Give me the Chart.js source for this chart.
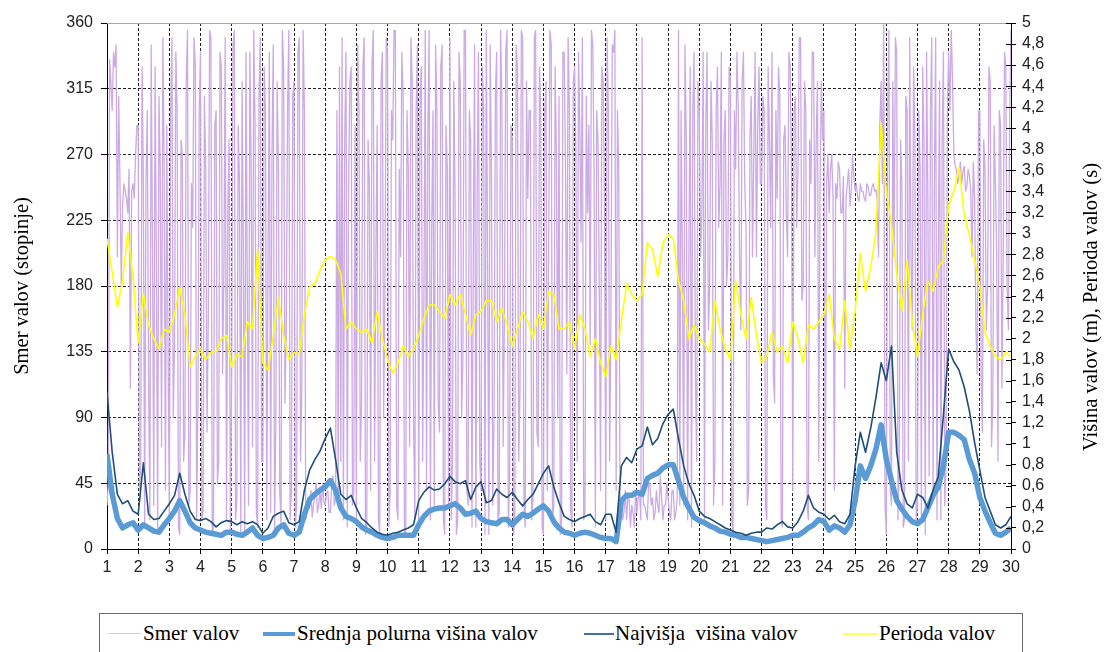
<!DOCTYPE html>
<html>
<head>
<meta charset="utf-8">
<title>Valovi</title>
<script src="https://cdn.jsdelivr.net/npm/chart.js@4.4.1/dist/chart.umd.min.js"></script>
<style>
  html, body { margin: 0; padding: 0; background: #fff; }
  #wrap { position: relative; width: 1107px; height: 652px; overflow: hidden; }
  #graf { position: absolute; left: 0; top: 0; }
  #legenda {
    position: absolute; left: 99px; top: 613px; width: 922px; height: 50px;
    border: 1px solid #6b6b6b; background: #fff;
    font: 21px "Liberation Serif", "Times New Roman", serif; color: #000;
  }
  #legenda .crta { position: absolute; }
  #legenda .txt { position: absolute; top: 6px; line-height: 26px; white-space: pre; }
</style>
</head>
<body>
<div id="wrap">
  <canvas id="graf" width="1107" height="652"></canvas>
  <div id="legenda">
    <span class="crta" style="left:8px;top:19px;width:33px;height:1px;background:#dcc6ee"></span>
    <span class="txt" style="left:43px">Smer valov</span>
    <span class="crta" style="left:163px;top:18px;width:32px;height:4px;background:#5b9bd5"></span>
    <span class="txt" style="left:197px">Srednja polurna višina valov</span>
    <span class="crta" style="left:484px;top:19px;width:30px;height:2px;background:#41729f"></span>
    <span class="txt" style="left:515px">Najvišja  višina valov</span>
    <span class="crta" style="left:743px;top:19px;width:34px;height:2px;background:#ffff55"></span>
    <span class="txt" style="left:779px">Perioda valov</span>
  </div>
</div>
<script>
/* ================= PODATKI ================= */
// smer valov (stopinje), vsako uro, od 1. do 30. dne (24 vrednosti na vrstico = 1 dan)
const smerValov = [
  30, 45, 335, 320, 300, 340, 330, 345, 200, 310, 250, 180, 235, 250, 245, 240, 230, 260, 110, 245, 250, 240, 270, 290,
  290, 40, 60, 330, 250, 15, 250, 300, 120, 20, 345, 210, 30, 330, 200, 10, 310, 260, 70, 350, 260, 40, 290, 140,
  20, 300, 350, 90, 140, 340, 300, 15, 10, 280, 270, 60, 80, 320, 355, 30, 40, 250, 220, 350, 330, 20, 100, 300,
  340, 20, 25, 310, 260, 80, 160, 355, 350, 10, 15, 290, 300, 45, 60, 340, 330, 120, 190, 350, 20, 230, 280, 10,
  120, 345, 355, 20, 35, 290, 250, 10, 320, 200, 10, 340, 180, 30, 340, 260, 70, 355, 290, 25, 15, 310, 350, 60,
  60, 330, 300, 20, 200, 340, 25, 270, 345, 10, 90, 320, 260, 40, 15, 355, 330, 100, 150, 300, 355, 20, 40, 310,
  320, 15, 30, 340, 350, 60, 110, 355, 300, 20, 25, 35, 28, 40, 22, 30, 35, 45, 25, 30, 40, 28, 45, 32,
  30, 38, 40, 25, 25, 45, 50, 30, 35, 300, 40, 330, 60, 350, 20, 280, 340, 15, 250, 320, 330, 30, 40, 290,
  20, 345, 300, 60, 100, 330, 350, 10, 15, 280, 250, 40, 330, 355, 60, 200, 290, 20, 10, 320, 340, 90, 180, 350,
  340, 15, 40, 300, 280, 355, 355, 30, 20, 260, 200, 340, 310, 10, 10, 300, 260, 70, 350, 320, 90, 20, 300, 345,
  15, 310, 330, 60, 170, 355, 40, 280, 355, 20, 220, 300, 30, 345, 300, 100, 80, 330, 345, 20, 10, 290, 260, 30,
  350, 20, 60, 320, 240, 10, 20, 340, 320, 90, 130, 355, 355, 40, 30, 300, 280, 15, 200, 345, 15, 250, 340, 60,
  40, 330, 300, 10, 355, 200, 10, 345, 260, 30, 90, 310, 340, 20, 25, 355, 310, 70, 160, 340, 355, 15, 50, 290,
  280, 10, 20, 345, 330, 60, 110, 355, 350, 30, 15, 320, 240, 300, 300, 20, 35, 350, 355, 80, 70, 330, 290, 15,
  10, 300, 320, 40, 200, 355, 345, 20, 30, 330, 270, 90, 310, 10, 20, 340, 340, 260, 120, 350, 300, 25, 15, 320,
  330, 270, 60, 340, 290, 210, 350, 20, 25, 310, 230, 290, 140, 355, 345, 260, 15, 300, 280, 180, 40, 330, 320, 240,
  20, 350, 300, 60, 160, 345, 340, 355, 40, 300, 260, 30, 30, 20, 25, 40, 20, 35, 35, 15, 30, 25, 15, 40,
  25, 35, 40, 20, 350, 30, 30, 25, 20, 45, 45, 30, 35, 20, 25, 40, 30, 25, 50, 35, 20, 30, 30, 45,
  35, 25, 20, 40, 40, 20, 25, 35, 355, 30, 300, 200, 30, 345, 280, 20, 200, 330, 15, 300, 340, 120, 60, 320,
  300, 200, 230, 340, 20, 290, 340, 150, 180, 320, 280, 30, 60, 300, 330, 220, 250, 340, 30, 280, 300, 180, 200, 330,
  320, 20, 10, 300, 260, 340, 300, 200, 150, 320, 340, 250, 220, 30, 40, 280, 310, 200, 270, 340, 200, 290, 330, 250,
  250, 310, 300, 30, 20, 330, 280, 220, 340, 120, 100, 300, 240, 330, 310, 20, 15, 280, 290, 230, 200, 340, 330, 260,
  40, 300, 310, 220, 260, 350, 350, 170, 180, 320, 300, 30, 20, 280, 250, 340, 340, 200, 280, 320, 60, 250, 320, 280,
  300, 20, 250, 270, 230, 260, 270, 240, 40, 250, 240, 265, 260, 230, 230, 255, 110, 240, 250, 260, 235, 245, 270, 255,
  245, 250, 240, 238, 250, 245, 245, 240, 238, 250, 248, 242, 242, 248, 250, 245, 246, 238, 200, 290, 320, 250, 360, 30,
  10, 300, 355, 40, 30, 320, 200, 350, 340, 20, 60, 280, 250, 15, 20, 310, 300, 60, 350, 200, 150, 330, 280, 20,
  30, 300, 260, 20, 330, 280, 10, 340, 240, 50, 300, 350, 40, 250, 350, 20, 200, 320, 20, 280, 340, 30, 60, 300,
  340, 300, 355, 320, 270, 262, 260, 250, 255, 265, 250, 258, 262, 245, 248, 260, 255, 245, 200, 265, 240, 150, 120, 300,
  300, 120, 80, 280, 260, 150, 180, 330, 320, 70, 100, 290, 250, 200, 60, 300, 290, 110, 200, 340, 330, 180, 150, 300,
  355
];

// srednja polurna višina valov (m), vsake 4 ure
const srednjaVisina = [
  0.90, 0.52, 0.29, 0.20, 0.23, 0.25,
  0.18, 0.23, 0.20, 0.17, 0.16, 0.23,
  0.29, 0.36, 0.46, 0.36, 0.25, 0.20,
  0.18, 0.16, 0.15, 0.14, 0.13, 0.16,
  0.16, 0.14, 0.13, 0.16, 0.20, 0.13,
  0.10, 0.11, 0.13, 0.20, 0.23, 0.15,
  0.13, 0.16, 0.33, 0.47, 0.52, 0.56,
  0.59, 0.65, 0.56, 0.39, 0.31, 0.29,
  0.26, 0.21, 0.18, 0.16, 0.13, 0.11,
  0.10, 0.11, 0.13, 0.13, 0.13, 0.13,
  0.23, 0.31, 0.36, 0.38, 0.39, 0.39,
  0.41, 0.43, 0.39, 0.33, 0.34, 0.36,
  0.29, 0.26, 0.25, 0.24, 0.28, 0.28,
  0.23, 0.28, 0.33, 0.31, 0.34, 0.38,
  0.41, 0.36, 0.26, 0.20, 0.16, 0.15,
  0.13, 0.15, 0.16, 0.15, 0.13, 0.11,
  0.10, 0.10, 0.07, 0.46, 0.51, 0.51,
  0.54, 0.52, 0.67, 0.70, 0.72, 0.77,
  0.80, 0.80, 0.65, 0.49, 0.39, 0.30,
  0.27, 0.25, 0.22, 0.20, 0.17, 0.16,
  0.14, 0.13, 0.11, 0.11, 0.10, 0.09,
  0.08, 0.07, 0.08, 0.09, 0.10, 0.11,
  0.13, 0.13, 0.16, 0.20, 0.23, 0.28,
  0.26, 0.18, 0.22, 0.20, 0.16, 0.23,
  0.46, 0.79, 0.67, 0.79, 0.95, 1.18,
  0.85, 0.65, 0.46, 0.38, 0.31, 0.26,
  0.24, 0.28, 0.39, 0.51, 0.59, 0.79,
  1.11, 1.11, 1.08, 1.04, 0.85, 0.72,
  0.49, 0.36, 0.25, 0.15, 0.13, 0.16,
  0.20
];

// najvišja višina valov (m), vsake 4 ure
const najvisjaVisina = [
  1.49, 0.92, 0.52, 0.43, 0.46, 0.36,
  0.33, 0.82, 0.33, 0.28, 0.29, 0.36,
  0.43, 0.51, 0.72, 0.52, 0.36, 0.28,
  0.27, 0.29, 0.26, 0.21, 0.25, 0.27,
  0.26, 0.23, 0.26, 0.24, 0.26, 0.23,
  0.15, 0.20, 0.31, 0.34, 0.36, 0.25,
  0.23, 0.26, 0.56, 0.75, 0.85, 0.93,
  1.05, 1.15, 0.85, 0.52, 0.47, 0.51,
  0.39, 0.29, 0.25, 0.20, 0.16, 0.14,
  0.13, 0.15, 0.16, 0.18, 0.20, 0.23,
  0.46, 0.54, 0.59, 0.56, 0.57, 0.62,
  0.69, 0.64, 0.62, 0.65, 0.47, 0.59,
  0.64, 0.44, 0.46, 0.57, 0.52, 0.49,
  0.54, 0.47, 0.41, 0.47, 0.52, 0.62,
  0.72, 0.79, 0.59, 0.44, 0.31, 0.28,
  0.26, 0.29, 0.31, 0.33, 0.26, 0.23,
  0.33, 0.33, 0.16, 0.79, 0.87, 0.82,
  0.95, 0.98, 1.16, 0.99, 1.05, 1.19,
  1.28, 1.33, 1.05, 0.79, 0.62, 0.51,
  0.36, 0.31, 0.29, 0.26, 0.23, 0.20,
  0.18, 0.16, 0.15, 0.13, 0.15, 0.16,
  0.16, 0.20, 0.19, 0.23, 0.26, 0.21,
  0.20, 0.26, 0.36, 0.51, 0.39, 0.35,
  0.33, 0.28, 0.32, 0.26, 0.24, 0.33,
  0.79, 1.11, 0.92, 1.15, 1.44, 1.77,
  1.60, 1.93, 0.92, 0.56, 0.43, 0.39,
  0.52, 0.49, 0.39, 0.56, 0.69, 1.28,
  1.90, 1.78, 1.70, 1.54, 1.31, 1.01,
  0.75, 0.49, 0.36, 0.23, 0.20, 0.23,
  0.31
];

// perioda valov (s), vsake 4 ure
const periodaValov = [
  2.95, 2.63, 2.30, 2.55, 3.01, 2.58,
  1.96, 2.42, 2.13, 2.00, 1.90, 2.09,
  2.06, 2.23, 2.49, 2.23, 1.73, 1.83,
  1.90, 1.80, 1.87, 1.88, 2.00, 2.03,
  1.73, 1.85, 1.83, 2.16, 2.09, 2.85,
  1.77, 1.70, 2.03, 2.39, 2.03, 1.80,
  1.87, 1.85, 2.23, 2.49, 2.52, 2.65,
  2.75, 2.78, 2.75, 2.62, 2.09, 2.16,
  2.09, 2.06, 2.09, 1.96, 2.26, 2.00,
  1.80, 1.67, 1.77, 1.93, 1.83, 1.90,
  2.03, 2.19, 2.32, 2.32, 2.26, 2.19,
  2.42, 2.32, 2.42, 2.23, 2.03, 2.23,
  2.26, 2.36, 2.36, 2.16, 2.29, 2.13,
  1.93, 2.09, 2.26, 2.16, 2.00, 2.23,
  2.09, 2.45, 2.42, 2.09, 2.09, 2.16,
  1.90, 2.23, 2.09, 1.83, 2.00, 1.77,
  1.64, 1.93, 1.80, 2.16, 2.52, 2.42,
  2.36, 2.42, 2.91, 2.85, 2.59, 2.91,
  2.99, 2.95, 2.55, 2.36, 2.00, 2.13,
  2.00, 1.95, 1.87, 2.36, 2.09, 1.90,
  1.80, 2.55, 2.23, 2.00, 2.39, 2.03,
  1.77, 1.83, 2.06, 1.87, 1.93, 1.77,
  2.16, 2.00, 1.77, 2.13, 2.09, 2.16,
  2.23, 2.42, 2.00, 1.90, 2.36, 1.90,
  2.26, 2.81, 2.45, 2.68, 3.01, 4.05,
  3.40, 3.08, 2.62, 2.26, 2.75, 2.16,
  1.83, 2.23, 2.55, 2.45, 2.68, 2.75,
  3.27, 3.40, 3.63, 3.17, 2.98, 2.75,
  2.49, 2.06, 1.93, 1.83, 1.80, 1.87,
  1.83
];

const prviDan = 1;
const zadnjiDan = 30;

/* ================= POMOŽNO ================= */
// meritve so enakomerno razporejene: n meritev na dan
function vTocke(vrednosti, naDan) {
    return vrednosti.map((v, i) => ({ x: prviDan + i / naDan, y: v }));
}

function vejica(v) {
    return String(Math.round(v * 10) / 10).replace(".", ",");
}

const serif = '"Liberation Serif", "Times New Roman", serif';

/* ================= OKVIR, DESNA OS ================= */
const okvir = {
    id: "okvir",
    afterDraw(chart) {
        const { ctx, chartArea: a, scales } = chart;
        ctx.save();

        // zgornji rob risalne ploskve
        ctx.strokeStyle = "#a6a6a6";
        ctx.lineWidth = 1;
        ctx.beginPath();
        ctx.moveTo(a.left, a.top + 0.5);
        ctx.lineTo(a.right, a.top + 0.5);
        ctx.stroke();

        // oznake desne osi segajo tudi navznoter
        const y2 = scales.y2;
        ctx.strokeStyle = "#000";
        ctx.beginPath();
        y2.ticks.forEach(t => {
            const y = Math.round(y2.getPixelForValue(t.value)) + 0.5;
            ctx.moveTo(a.right - 5, y);
            ctx.lineTo(a.right, y);
        });
        ctx.stroke();

        // naslov desne osi (bere se od spodaj navzgor)
        ctx.translate(1092, 307);
        ctx.rotate(-Math.PI / 2);
        ctx.fillStyle = "#000";
        ctx.font = "20.5px " + serif;
        ctx.textAlign = "center";
        ctx.textBaseline = "middle";
        ctx.fillText("Višina valov (m), Perioda valov (s)", 0, 0);

        ctx.restore();
    }
};

/* ================= GRAF ================= */
Chart.defaults.font.family = '"Liberation Sans", Arial, sans-serif';
Chart.defaults.font.size = 16;
Chart.defaults.color = "#222";

const skupno = { pointRadius: 0, pointHoverRadius: 0, fill: false, tension: 0, borderJoinStyle: "round" };

new Chart(document.getElementById("graf"), {
    type: "line",
    data: {
        datasets: [
            { ...skupno, label: "Najvišja  višina valov", data: vTocke(najvisjaVisina, 6), yAxisID: "y2",
              borderColor: "#1f4e79", borderWidth: 1.6, order: 0 },
            { ...skupno, label: "Srednja polurna višina valov", data: vTocke(srednjaVisina, 6), yAxisID: "y2",
              borderColor: "#5b9bd5", borderWidth: 5.5, order: 1 },
            { ...skupno, label: "Perioda valov", data: vTocke(periodaValov, 6), yAxisID: "y2",
              borderColor: "#ffff00", borderWidth: 1.6, order: 2 },
            { ...skupno, label: "Smer valov", data: vTocke(smerValov, 24), yAxisID: "y",
              borderColor: "rgb(204,170,229)", borderWidth: 1.3, order: 3 }
        ]
    },
    options: {
        responsive: false,
        animation: false,
        devicePixelRatio: 1,
        events: [],
        layout: { padding: { top: 23, bottom: 63, left: 0, right: 0 } },
        plugins: { legend: { display: false }, tooltip: { enabled: false } },
        scales: {
            x: {
                type: "linear",
                min: prviDan,
                max: zadnjiDan,
                afterFit: s => { s.height = 40; },
                ticks: { stepSize: 1, autoSkip: false, maxRotation: 0, padding: 4 },
                grid: { color: "#222", lineWidth: 1, tickLength: 5, tickColor: "#000", tickBorderDash: [] },
                border: { color: "#000", width: 1, dash: [3, 2] }
            },
            y: {
                position: "left",
                min: 0,
                max: 360,
                afterFit: s => { s.width = 107; },
                ticks: { stepSize: 45, padding: 8 },
                grid: {
                    color: c => (c.tick && c.tick.value === 360 ? "rgba(0,0,0,0)" : "#222"),
                    lineWidth: 1, tickLength: 6, tickColor: "#000", tickBorderDash: []
                },
                border: { color: "#000", width: 1, dash: [3, 2] },
                title: {
                    display: true,
                    text: "Smer valov (stopinje)",
                    color: "#000",
                    font: { family: serif, size: 20.5 },
                    padding: { top: 10, bottom: 0 }
                }
            },
            y2: {
                position: "right",
                min: 0,
                max: 5,
                afterFit: s => { s.width = 96; },
                ticks: { stepSize: 0.2, autoSkip: false, padding: 6, callback: v => vejica(v) },
                grid: { drawOnChartArea: false, tickLength: 5, tickColor: "#000" },
                border: { color: "#000", width: 1 }
            }
        }
    },
    plugins: [okvir]
});
</script>
</body>
</html>
